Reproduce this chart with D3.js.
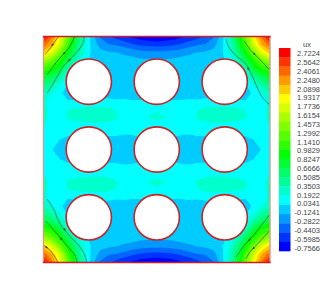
<!DOCTYPE html>
<html>
<head>
<meta charset="utf-8">
<script src="https://cdn.jsdelivr.net/npm/d3@7"></script>
<style>
  html, body { margin: 0; background: #fff; }
  svg { display: block; }
</style>
</head>
<body>
<svg id="chart" width="332" height="296"></svg>
<script>
// colorbar labels, top to bottom
let levelLabels = ['2.7224','2.5642','2.4061','2.2480','2.0898','1.9317','1.7736','1.6154','1.4573','1.2992','1.1410',
  '0.9829','0.8247','0.6666','0.5085','0.3503','0.1922','0.0341','-0.1241','-0.2822','-0.4403','-0.5985','-0.7566'];
let colorStops = ['#0000ff','#00ffff','#00ff00','#ffff00','#ff0000'];
let colorBands = [0,5,10,16,21];

// ux for the top left quarter, the plot is mirrored both ways
let quarterField = [
  [2.72,2.30,1.85,1.30,.75,.30,-.05,-.30,-.42,-.50,-.58,-.63,-.68,-.72,-.75],
  [2.35,2.10,1.70,1.15,.65,.25,-.02,-.18,-.27,-.30,-.35,-.42,-.47,-.49,-.50],
  [2.00,1.75,1.35,.90,.50,.20,.00,-.07,-.10,-.12,-.15,-.18,-.21,-.24,-.24],
  [1.50,1.30,1.00,.65,.30,.10,-.02,-.04,-.05,-.06,-.06,-.07,-.09,-.10,-.10],
  [1.10,1.00,.75,.35,.12,.00,-.03,-.03,-.03,-.03,-.03,-.03,-.03,-.04,-.04],
  [.75,.65,.42,.15,.00,-.02,-.03,-.03,-.03,-.03,-.02,-.02,-.02,-.02,-.02],
  [.50,.40,.20,.02,-.02,-.03,-.03,-.03,-.03,-.03,-.01,-.01,-.01,-.01,-.01],
  [.32,.20,.06,-.02,-.03,-.03,-.03,-.03,-.03,-.03,-.01,.00,.00,.00,.00],
  [.22,.12,.04,.04,.05,.06,.07,.08,.07,.05,.05,.04,.04,.05,.05],
  [.25,.13,.10,.19,.21,.23,.24,.24,.23,.18,.10,.09,.09,.14,.17],
  [.24,.15,.13,.21,.26,.28,.29,.29,.28,.21,.14,.14,.16,.20,.23],
  [.19,.13,.08,.10,.12,.13,.14,.14,.13,.10,.07,.06,.07,.09,.12],
  [.17,.08,.05,.06,.07,.07,.07,.07,.07,.06,.04,.04,.05,.06,.06],
  [.15,.06,.03,-.01,-.02,-.03,-.03,-.03,-.03,-.02,.00,.01,.02,.02,.02],
  [.10,.04,-.01,-.03,-.04,-.04,-.04,-.04,-.04,-.04,-.04,-.04,-.04,-.04,-.04]
];

// holes
let holeX = [20, 50, 80];
let holeY = [20, 50, 80];
let holeR = 10;

// streamlines [x, y] in plot units
let streamlines = [
  [[6.8,0],[5,2.2],[2.8,5.4],[.6,8.1]],
  [[13.8,0],[13.1,1.5],[10.9,5.4],[7.2,9.6],[4.3,13.2],[1.6,16.9]],
  [[17.9,0],[17.5,2.9],[13.8,8],[8.7,13.2],[6.5,16.9],[4,21.3],[1.6,25]],
  [[80.6,1],[81.6,4.4],[84.6,8.1],[89,11.8],[91.9,16.9],[94.1,22],[96.3,26.5],[99.7,30.2]],
  [[88.6,1.9],[91.3,5.9],[95,9.6],[99.7,14.7]],
  [[.1,92.3],[2.8,94.5],[6.5,99.9]],
  [[1.3,81.9],[5.7,87],[10.1,92.3],[13.8,96.7],[14.9,99.9]],
  [[1.6,71.9],[4.3,76],[7.2,82.7],[11.6,88.3],[16,93],[18.2,96.7],[19,99.9]],
  [[99.7,79],[93.4,87.1],[88.2,93],[85,97.7]],
  [[99.7,86],[94.1,92.3],[91.2,95.2],[89.4,98.5]]
];

let x = d3.scaleLinear().domain([0,100]).range([43.5,270]);
let y = d3.scaleLinear().domain([0,100]).range([36.5,262.5]);
let r = d3.scaleLinear().domain([0,100]).range([0,226.5]);

let svg = d3.select('#chart');

// mirror the quarter out to the full grid
let rows = quarterField.map(function(row) {
  return row.concat(row.slice(0,-1).reverse());
});
rows = rows.concat(rows.slice(0,-1).reverse());
let n = rows.length;
let values = d3.merge(rows);

let thresholds = levelLabels.map(Number).reverse();
let bandCount = thresholds.length - 1;
let bandColor = d3.scaleLinear()
  .domain(colorBands)
  .range(colorStops);

let gridStep = 100/(n-1);
let project = d3.geoTransform({
  point: function(px, py) {
    this.stream.point(x((px-.5)*gridStep), y((py-.5)*gridStep));
  }
});

svg.append('clipPath').attr('id','plotclip')
  .append('rect')
  .attr('x', x(0)).attr('y', y(0))
  .attr('width', x(100)-x(0)).attr('height', y(100)-y(0));

let plot = svg.append('g').attr('clip-path','url(#plotclip)');

// lowest band fills everything, the rest stack on top
thresholds[0] = -10;
let contours = d3.contours().size([n,n]).thresholds(thresholds.slice(0,-1))(values);
plot.selectAll('path.band')
  .data(contours)
  .join('path')
  .attr('class','band')
  .attr('d', d3.geoPath(project))
  .attr('fill', function(d,i) {return bandColor(i)});

// streamlines
let lineGen = d3.line()
  .x(function(d) {return x(d[0])})
  .y(function(d) {return y(d[1])})
  .curve(d3.curveCatmullRom);

plot.selectAll('path.stream')
  .data(streamlines)
  .join('path')
  .attr('class','stream')
  .attr('d', lineGen)
  .attr('fill','none')
  .attr('stroke','#2b3a3a')
  .attr('stroke-width',.6);

// little arrow in the middle of each streamline
plot.selectAll('path.arrow')
  .data(streamlines)
  .join('path')
  .attr('class','arrow')
  .attr('d','M1.5,0L-1.2,-1.1L-1.2,1.1Z')
  .attr('fill','#2b3a3a')
  .attr('transform', function(d) {
    let k = Math.floor(d.length/2);
    let a = d[k-1], b = d[k];
    let angle = Math.atan2(y(b[1])-y(a[1]), x(b[0])-x(a[0]))*180/Math.PI;
    return 'translate(' + x((a[0]+b[0])/2) + ',' + y((a[1]+b[1])/2) + ') rotate(' + angle + ')';
  });

// frame, the sides come out paler than top and bottom
let frameSides = [[0,0,0,100],[100,0,100,100]];
let frameEnds = [[0,0,100,0],[0,100,100,100]];
svg.selectAll('line.side')
  .data(frameSides)
  .join('line')
  .attr('class','side')
  .attr('x1', function(d) {return x(d[0])})
  .attr('y1', function(d) {return y(d[1])})
  .attr('x2', function(d) {return x(d[2])})
  .attr('y2', function(d) {return y(d[3])})
  .attr('stroke','#d89a8c')
  .attr('stroke-width',1.4);
svg.selectAll('line.end')
  .data(frameEnds)
  .join('line')
  .attr('class','end')
  .attr('x1', function(d) {return x(d[0])-.7})
  .attr('y1', function(d) {return y(d[1])})
  .attr('x2', function(d) {return x(d[2])+.7})
  .attr('y2', function(d) {return y(d[3])})
  .attr('stroke','#d01c28')
  .attr('stroke-width',1.3);

// holes
let holes = d3.cross(holeX, holeY);
svg.selectAll('circle.hole')
  .data(holes)
  .join('circle')
  .attr('class','hole')
  .attr('cx', function(d) {return x(d[0])})
  .attr('cy', function(d) {return y(d[1])})
  .attr('r', r(holeR))
  .attr('fill','#fff')
  .attr('stroke','#cc2226')
  .attr('stroke-width',1.6);

// colorbar
let barY = d3.scaleBand().domain(d3.range(bandCount)).range([48,251]);
svg.selectAll('rect.key')
  .data(d3.range(bandCount))
  .join('rect')
  .attr('class','key')
  .attr('x',279).attr('width',11.5)
  .attr('y', function(d) {return barY(d)})
  .attr('height', barY.bandwidth()+.3)
  .attr('fill', function(d) {return bandColor(bandCount-1-d)});

let labelY = d3.scalePoint().domain(levelLabels).range([53.3,247.7]);
let axis = svg.append('g')
  .attr('transform','translate(320,0)')
  .call(d3.axisLeft(labelY).tickSize(0).tickPadding(0));
axis.select('.domain').remove();
axis.selectAll('text')
  .attr('font-family','Liberation Sans')
  .attr('font-size',7.5)
  .attr('fill','#444');

svg.append('text')
  .attr('x',307).attr('y',47)
  .attr('text-anchor','middle')
  .attr('font-family','Liberation Sans')
  .attr('font-size',7.5)
  .attr('fill','#444')
  .text('ux');
</script>
</body>
</html>
